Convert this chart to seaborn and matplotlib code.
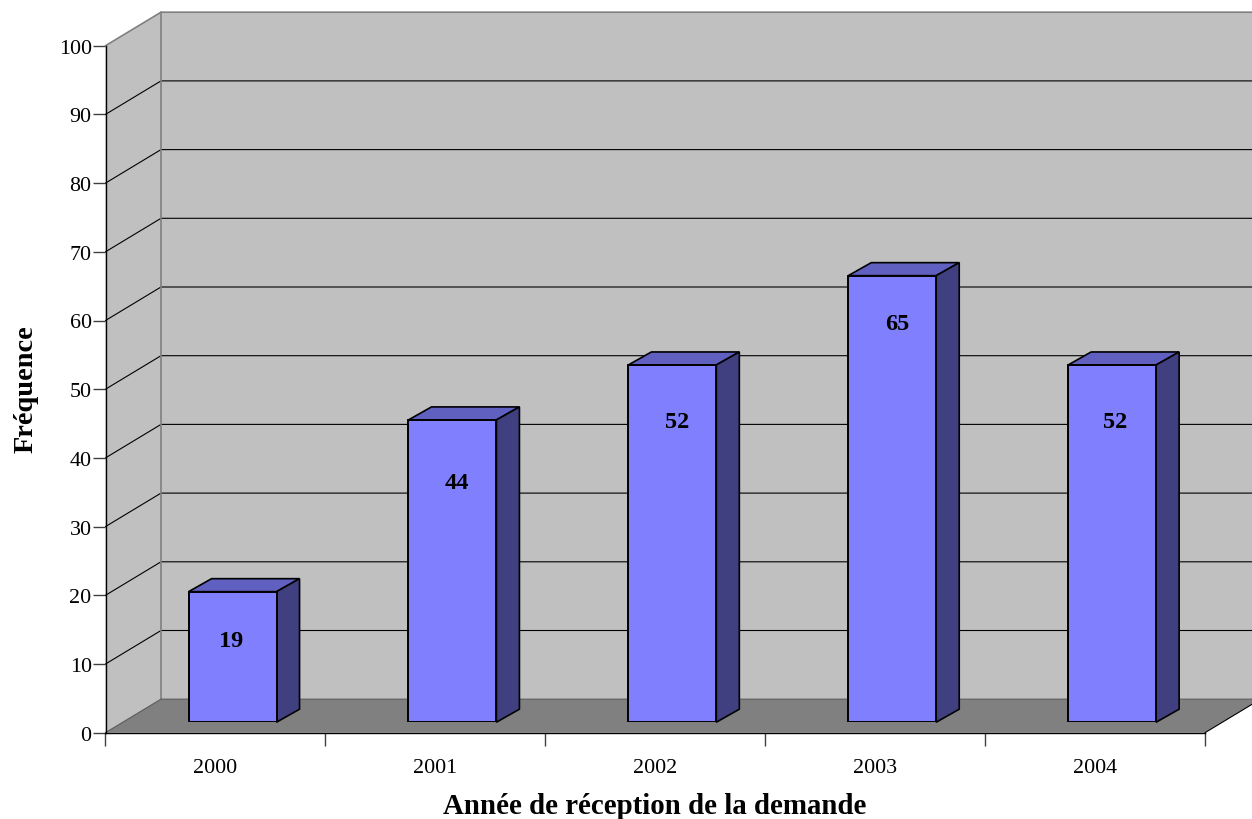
import pandas as pd
import matplotlib
matplotlib.use('Agg')
import matplotlib.pyplot as plt
import seaborn as sns

annees = ['2000', '2001', '2002', '2003', '2004']
frequences = [19, 44, 52, 65, 52]
yticks = [0, 10, 20, 30, 40, 50, 60, 70, 80, 90, 100]

# ou Excel a pose les etiquettes, en pixels depuis le haut de la barre
label_drop = [49, 63, 57, 48, 57]
label_shift = [-1, 4, 5, 5, 3]

W, H = 1252, 820
BLEU, BLEU_HAUT, BLEU_COTE = '#8080FF', '#6060C0', '#404080'
GRIS, GRIS_SOL, GRIS_TRAIT = '#C0C0C0', '#808080', '#808080'

sns.set_theme(style='white')
plt.rcParams['font.family'] = ['Liberation Serif', 'DejaVu Serif']

fig = plt.figure(figsize=(W / 100, H / 100), dpi=100, facecolor='white')

# plan avant : les axes et les graduations
x0, x1, y_haut, y_bas = 105.5, 1205, 46.7, 733.7
ax = fig.add_axes([x0 / W, 1 - y_bas / H, (x1 - x0) / W, (y_bas - y_haut) / H])
ax.set_facecolor('none')
ax.set_xlim(-0.5, 4.5)
ax.set_ylim(0, 100)
px_x = 5 / (x1 - x0)
px_y = 100 / (y_bas - y_haut)
dx, dy = 55.5 * px_x, 33.5 * px_y

# parois et sol
ax.fill([-0.5, -0.5, -0.5 + dx, -0.5 + dx], [0, 100, 100 + dy, dy],
        color=GRIS, lw=0, clip_on=False, zorder=1)
ax.fill([-0.5 + dx, -0.5 + dx, 4.5 + dx, 4.5 + dx], [dy, 100 + dy, 100 + dy, dy],
        color=GRIS, lw=0, clip_on=False, zorder=1)
ax.fill([-0.5, 4.5, 4.5 + dx, -0.5 + dx], [0, 0, dy, dy],
        color=GRIS_SOL, lw=0, clip_on=False, zorder=1)

for v in yticks[1:-1]:
    ax.plot([-0.5, -0.5 + dx, 4.5 + dx], [v, v + dy, v + dy], color='black', lw=0.8,
            clip_on=False, zorder=2, solid_joinstyle='miter')
ax.plot([-0.5, -0.5 + dx, 4.5 + dx], [100, 100 + dy, 100 + dy], color=GRIS_TRAIT, lw=1.2,
        clip_on=False, zorder=2)
ax.plot([-0.5 + dx, -0.5 + dx], [dy, 100 + dy], color=GRIS_TRAIT, lw=1.2, clip_on=False, zorder=2)
ax.plot([-0.5, -0.5 + dx, 4.5 + dx], [0, dy, dy], color='#606060', lw=0.9, clip_on=False, zorder=2)
ax.plot([4.5, 4.5 + dx], [0, dy], color='black', lw=0.8, clip_on=False, zorder=2)

for cote in ['top', 'right']:
    ax.spines[cote].set_visible(False)
for cote in ['left', 'bottom']:
    ax.spines[cote].set_color('black')
    ax.spines[cote].set_linewidth(1.0)
    ax.spines[cote].set_zorder(3)

ax.set_yticks(yticks)
ax.set_yticklabels([str(v) for v in yticks], fontsize=15.8)
ax.set_xticks([-0.5, 0.5, 1.5, 2.5, 3.5, 4.5])
ax.set_xticklabels([])
ax.set_xticks(range(5), minor=True)
ax.set_xticklabels(annees, minor=True, fontsize=15.8)
ax.tick_params(axis='y', length=9.5, width=1.0, color='#404040', pad=0.5, left=True, labelcolor='black')
ax.tick_params(axis='x', which='major', length=9, width=1.0, color='#404040', bottom=True)
ax.tick_params(axis='x', which='minor', length=0, pad=18.5, labelcolor='black')

fig.text(654.5 / W, 1 - 807 / H, 'Année de réception de la demande', ha='center', va='center',
         fontsize=20.8, fontweight='bold', color='black')
fig.text(26 / W, 1 - 389.5 / H, 'Fréquence', ha='center', va='center', rotation=90,
         fontsize=20.4, fontweight='bold', color='black')

# les barres sont un tiers plus loin dans la profondeur
bx0 = 122.6
by0 = 723.2
ax2 = fig.add_axes([bx0 / W, 1 - by0 / H, (x1 - x0) / W, (y_bas - y_haut) / H])
ax2.patch.set_alpha(0)
df = pd.DataFrame({'annee': annees, 'frequence': frequences})
sns.barplot(data=df, x='annee', y='frequence', ax=ax2, color=BLEU, saturation=1, width=0.4,
            edgecolor='black', linewidth=1.4, zorder=5)
ax2.set_xlim(-0.5, 4.5)
ax2.set_ylim(0, 100)
ax2.axis('off')

bdx, bdy = 23 * px_x, 13 * px_y
for i, barre in enumerate(ax2.patches):
    g, d, h = barre.get_x(), barre.get_x() + barre.get_width(), barre.get_height()
    ax2.fill([g, g + bdx, d + bdx, d], [h, h + bdy, h + bdy, h], facecolor=BLEU_HAUT,
             edgecolor='black', lw=1.2, zorder=4, clip_on=False)
    ax2.fill([d, d + bdx, d + bdx, d], [0, bdy, h + bdy, h], facecolor=BLEU_COTE,
             edgecolor='black', lw=1.2, zorder=4, clip_on=False)
    ax2.annotate(str(frequences[i]), (i, h), xytext=(label_shift[i] * 0.72, -label_drop[i] * 0.72),
                 textcoords='offset points', ha='center', va='center', fontsize=17.5,
                 fontweight='bold', color='black', zorder=6)

fig.savefig('out.png', dpi=100)
